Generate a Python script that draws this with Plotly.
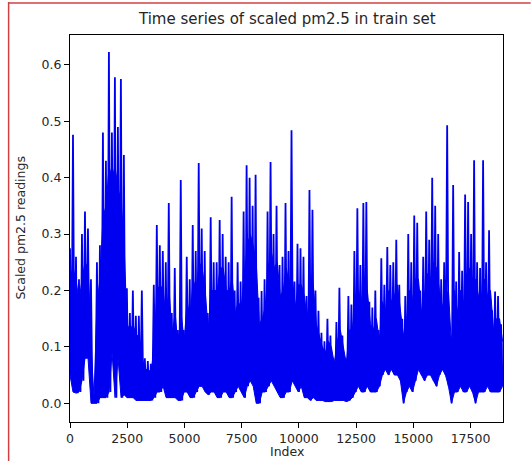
import numpy as np
import plotly.graph_objects as go

# Readings: alternating local high / local low, left to right
readings = [
    .275,.05, .476,.02, .26,.018, .22,.02, .30,.04, .34,.08, .31,.08, .22,.0, .015,.0, .25,.0,
    .28,.01, .48,.01, .43,.01, .623,.02, .48,.09, .578,.01, .49,.08, .575,.01, .44,.015, .204,.01,
    .16,.01, .20,.01, .155,.005, .155,.005, .20,.005, .08,.005, .075,.005, .07,.005, .21,.01, .316,.02,
    .28,.02, .27,.03, .25,.01, .355,.01, .16,.01, .24,.01, .13,.005, .396,.005, .13,.02, .26,.02,
    .22,.01, .316,.01, .27,.02, .426,.03, .31,.03, .27,.02, .16,.015, .33,.02, .25,.02, .25,.01,
    .325,.01, .30,.02, .26,.02, .25,.01, .366,.01, .20,.02, .25,.03, .216,.02, .34,.01, .422,.03,
    .40,.04, .35,.03, .405,.0, .187,.0, .199,.02, .22,.02, .34,.03, .428,.04, .30,.03, .35,.02,
    .245,.01, .26,.01, .355,.02, .27,.02, .484,.04, .216,.03, .283,.02, .275,.03, .26,.01, .19,.01,
    .378,.005, .343,.01, .20,.005, .164,.005, .125,.005, .11,.003, .15,.003, .12,.003, .08,.005, .144,.005,
    .205,.005, .12,.005, .08,.003, .19,.005, .175,.01, .27,.02, .346,.03, .245,.02, .355,.02, .357,.03,
    .18,.02, .17,.02, .20,.02, .13,.03, .257,.05, .21,.06, .277,.05, .245,.06, .25,.05, .29,.05,
    .21,.04, .15,.0, .19,.02, .30,.03, .25,.02, .333,.04, .32,.06, .20,.05, .26,.04, .34,.05,
    .29,.05, .40,.04, .35,.03, .30,.05, .22,.06, .25,.05, .493,.03, .12,.0, .387,.02, .216,.02,
    .268,.03, .235,.02, .37,.02, .357,.03, .30,.02, .431,.0, .25,.02, .24,.02, .431,.02, .25,.03,
    .307,.02, .165,.02, .198,.02, .19,.02, .14,.03,
]
# Top of the densely packed (solid-looking) part of the trace, one value per stretch
dense_top = [
    .22, .24, .22, .18, .22, .25, .24, .10, .01, .18,
    .22, .33, .35, .42, .40, .42, .38, .36, .28, .14,
    .13, .14, .12, .12, .08, .06, .06, .055, .10, .20,
    .21, .20, .15, .20, .12, .16, .10, .16, .11, .18,
    .15, .22, .20, .25, .24, .20, .13, .20, .20, .20,
    .24, .24, .20, .20, .22, .16, .18, .17, .22, .28,
    .30, .28, .25, .14, .15, .17, .24, .27, .24, .25,
    .19, .20, .24, .21, .22, .17, .21, .21, .19, .15,
    .20, .21, .14, .12, .10, .09, .11, .10, .07, .11,
    .13, .10, .07, .13, .13, .18, .20, .18, .21, .20,
    .14, .13, .15, .11, .18, .16, .20, .18, .19, .21,
    .16, .12, .14, .20, .18, .22, .22, .16, .19, .23,
    .21, .25, .24, .20, .17, .19, .20, .10, .20, .16,
    .20, .17, .22, .24, .21, .22, .19, .18, .22, .19,
    .20, .13, .15, .15, .11,
]
last_index = 18900
x_ticks = [0, 2500, 5000, 7500, 10000, 12500, 15000, 17500]
y_ticks = [0.0, 0.1, 0.2, 0.3, 0.4, 0.5, 0.6]

BLUE = "#0000f0"
index = np.linspace(0, last_index, len(readings))
dense_index = np.linspace(0, last_index, len(dense_top))
lows = readings[1::2]

fig = go.Figure()
fig.add_trace(go.Scatter(x=dense_index, y=lows, mode="lines", line=dict(color=BLUE, width=1),
                         showlegend=False, hoverinfo="skip"))
fig.add_trace(go.Scatter(x=dense_index, y=dense_top, mode="lines", line=dict(color=BLUE, width=1),
                         fill="tonexty", fillcolor=BLUE, showlegend=False, hoverinfo="skip"))
fig.add_trace(go.Scatter(x=index, y=readings, mode="lines",
                         line=dict(color=BLUE, width=1.8), showlegend=False))

L, R, T, B = 69.5, 503.3, 35, 422
W, H = 531, 461
pw, ph = R - L, B - T

font = "DejaVu Sans, Verdana, sans-serif"
axis_common = dict(showline=True, linecolor="black", linewidth=1, mirror=True,
                   ticks="outside", ticklen=5, tickcolor="black", showgrid=False,
                   zeroline=False, tickfont=dict(family=font, size=12.5, color="#262626"))

fig.update_layout(
    width=W, height=H,
    margin=dict(l=L, r=W - R, t=T, b=H - B),
    paper_bgcolor="white", plot_bgcolor="white",
    xaxis=dict(range=[0, 18920], tickvals=x_ticks, ticktext=[str(v) for v in x_ticks], **axis_common),
    yaxis=dict(range=[-0.0332, 0.653], tickvals=y_ticks, tickformat=".1f", **axis_common),
    font=dict(family=font),
)

fig.add_annotation(text="Time series of scaled pm2.5 in train set", xref="paper", yref="paper",
                   x=0.5, y=(B - 19) / ph, xanchor="center", yanchor="middle", showarrow=False,
                   font=dict(family=font, size=15, color="#262626"))
fig.add_annotation(text="Index", xref="paper", yref="paper",
                   x=0.5, y=(B - 452) / ph, xanchor="center", yanchor="middle", showarrow=False,
                   font=dict(family=font, size=12.5, color="#262626"))
fig.add_annotation(text="Scaled pm2.5 readings", xref="paper", yref="paper",
                   x=(20 - L) / pw, y=(B - 228) / ph, xanchor="center", yanchor="middle",
                   textangle=-90, showarrow=False,
                   font=dict(family=font, size=12.5, color="#262626"))

# screenshot border (left and top)
fig.add_shape(type="line", xref="paper", yref="paper",
              x0=(8 - L) / pw, x1=(8 - L) / pw, y0=(B - H) / ph, y1=(B - 2) / ph,
              line=dict(color="#d04040", width=1.5))
fig.add_shape(type="line", xref="paper", yref="paper",
              x0=(8 - L) / pw, x1=(W - L) / pw, y0=(B - 3) / ph, y1=(B - 3) / ph,
              line=dict(color="#d04040", width=1.5))

fig.write_html("out.html")
